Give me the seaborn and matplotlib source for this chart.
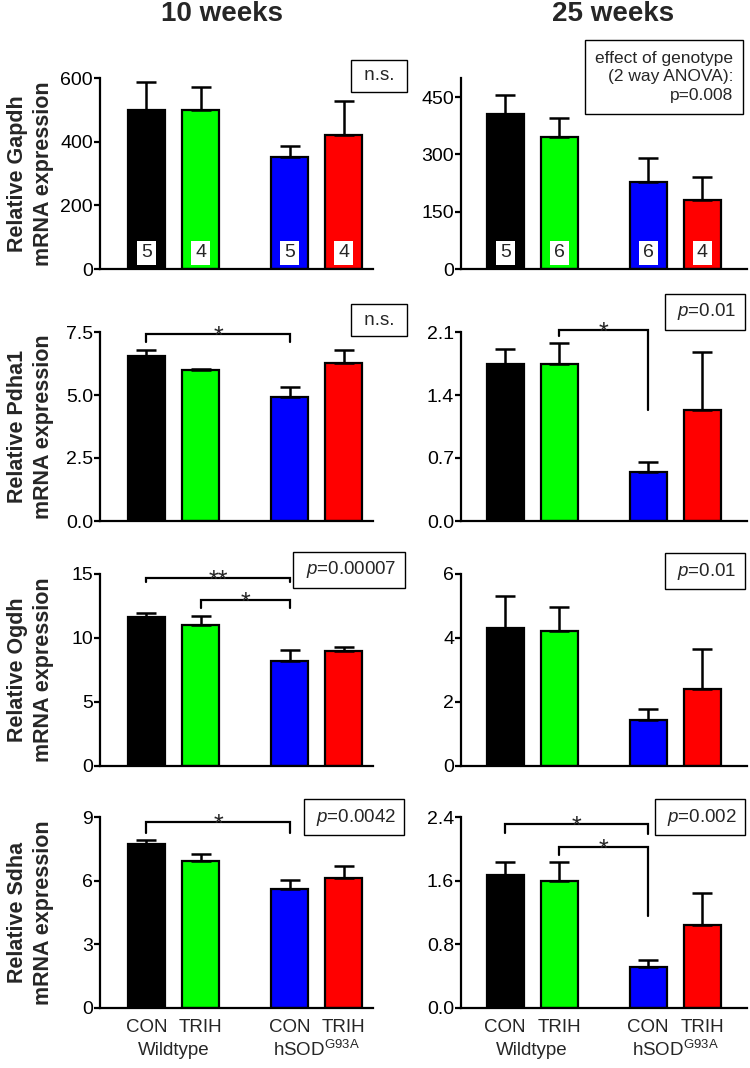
import numpy as np
import pandas as pd
import matplotlib
matplotlib.use("Agg")
import matplotlib.pyplot as plt
import matplotlib.transforms as mtransforms
import seaborn as sns

# groups (same order in every panel)
groups = ["WT CON", "WT TRIH", "SOD CON", "SOD TRIH"]
treatments = ["CON", "TRIH", "CON", "TRIH"]
genotypes = ["Wildtype", r"hSOD$^{\mathregular{G93A}}$"]
bar_colors = ["#000000", "#00ff00", "#0000ff", "#ff0000"]

# Gapdh
gapdh_10_mean = [500, 500, 353, 421]
gapdh_10_sem = [87, 73, 33, 107]
gapdh_10_n = [5, 4, 5, 4]
gapdh_25_mean = [407, 346, 229, 181]
gapdh_25_sem = [48, 48, 62, 61]
gapdh_25_n = [5, 6, 6, 4]

# Pdha1
pdha1_10_mean = [6.53, 5.99, 4.91, 6.26]
pdha1_10_sem = [0.26, 0.04, 0.40, 0.53]
pdha1_25_mean = [1.74, 1.75, 0.54, 1.23]
pdha1_25_sem = [0.17, 0.23, 0.12, 0.65]

# Ogdh
ogdh_10_mean = [11.62, 11.02, 8.23, 8.98]
ogdh_10_sem = [0.31, 0.70, 0.83, 0.29]
ogdh_25_mean = [4.30, 4.22, 1.44, 2.42]
ogdh_25_sem = [1.00, 0.75, 0.33, 1.25]

# Sdha
sdha_10_mean = [7.71, 6.93, 5.59, 6.14]
sdha_10_sem = [0.20, 0.31, 0.44, 0.55]
sdha_25_mean = [1.67, 1.60, 0.51, 1.04]
sdha_25_sem = [0.17, 0.24, 0.09, 0.40]

# y ticks per panel
gapdh_10_ticks = [0, 200, 400, 600]
gapdh_25_ticks = [0, 150, 300, 450]
pdha1_10_ticks = ["0.0", "2.5", "5.0", "7.5"]
pdha1_25_ticks = ["0.0", "0.7", "1.4", "2.1"]
ogdh_10_ticks = [0, 5, 10, 15]
ogdh_25_ticks = [0, 2, 4, 6]
sdha_10_ticks = [0, 3, 6, 9]
sdha_25_ticks = ["0.0", "0.8", "1.6", "2.4"]

# layout (pixels of a 750 x 1068 canvas)
W, H = 750, 1068
bar_pos = np.array([0.0, 1.0, 2.65, 3.65])
col_x = [(100, 373), (461, 747)]
col_xlim = [(-0.86, 4.19), (-0.82, 4.48)]
row_y = [(78, 269), (332, 521), (574, 766), (817, 1008)]


def px_rect(x0, x1, y0, y1):
    return [x0 / W, 1 - y1 / H, (x1 - x0) / W, (y1 - y0) / H]


def fig_text(fig, x, y, s, **kw):
    return fig.text(x / W, 1 - y / H, s, **kw)


sns.set_theme(style="ticks")
plt.rcParams["font.family"] = ["Liberation Sans", "DejaVu Sans"]
plt.rcParams["mathtext.fontset"] = "custom"
plt.rcParams["mathtext.rm"] = "Liberation Sans"
plt.rcParams["mathtext.it"] = "Liberation Sans:italic"
plt.rcParams["axes.linewidth"] = 1.6
plt.rcParams["axes.edgecolor"] = "black"

fig = plt.figure(figsize=(W / 100, H / 100), dpi=100)

panels = [
    # row, col, gene, mean, sem, n, ymax, ticks
    (0, 0, "Gapdh", gapdh_10_mean, gapdh_10_sem, gapdh_10_n, 600, gapdh_10_ticks),
    (0, 1, "Gapdh", gapdh_25_mean, gapdh_25_sem, gapdh_25_n, 500, gapdh_25_ticks),
    (1, 0, "Pdha1", pdha1_10_mean, pdha1_10_sem, None, 7.5, pdha1_10_ticks),
    (1, 1, "Pdha1", pdha1_25_mean, pdha1_25_sem, None, 2.1, pdha1_25_ticks),
    (2, 0, "Ogdh", ogdh_10_mean, ogdh_10_sem, None, 15, ogdh_10_ticks),
    (2, 1, "Ogdh", ogdh_25_mean, ogdh_25_sem, None, 6, ogdh_25_ticks),
    (3, 0, "Sdha", sdha_10_mean, sdha_10_sem, None, 9, sdha_10_ticks),
    (3, 1, "Sdha", sdha_25_mean, sdha_25_sem, None, 2.4, sdha_25_ticks),
]

# significance brackets: (row, col, left bar, right bar, top, left end, right end, stars)
brackets = [
    (1, 0, 0, 2, 7.42, 7.10, 7.10, "*"),
    (1, 1, 1, 2, 2.12, 2.06, 1.23, "*"),
    (2, 0, 0, 2, 14.71, 14.37, 14.37, "**"),
    (2, 0, 1, 2, 12.97, 12.34, 12.34, "*"),
    (3, 0, 0, 2, 8.78, 8.26, 8.26, "*"),
    (3, 1, 0, 2, 2.31, 2.20, 2.19, "*"),
    (3, 1, 1, 2, 2.02, 1.925, 1.15, "*"),
]

axes = {}
for row, col, gene, means, sems, ns, ymax, ticks in panels:
    ax = fig.add_axes(px_rect(*col_x[col], *row_y[row]))
    axes[(row, col)] = ax
    df = pd.DataFrame({"pos": bar_pos, "group": groups, "mean": means})
    sns.barplot(data=df, x="pos", y="mean", hue="group", hue_order=groups,
                palette=dict(zip(groups, bar_colors)), native_scale=True,
                dodge=False, width=0.68, errorbar=None, saturation=1,
                edgecolor="black", linewidth=1.6, legend=False, ax=ax)
    ax.errorbar(bar_pos, means, yerr=[np.zeros(len(sems)), sems], fmt="none",
                ecolor="black", elinewidth=1.8, capsize=7, capthick=1.8)

    ax.set_xlim(*col_xlim[col])
    ax.set_ylim(0, ymax)
    tick_vals = [float(t) for t in ticks]
    ax.set_yticks(tick_vals, [str(t) for t in ticks])
    ax.tick_params(axis="y", length=4, width=1.6, labelsize=14, pad=1,
                   colors="black")
    sns.despine(ax=ax)
    ax.set_xlabel("")
    ax.set_ylabel("")

    if row == 3:
        ax.set_xticks(bar_pos, treatments)
        ax.tick_params(axis="x", length=0, labelsize=13.5, pad=8)
        trans = mtransforms.blended_transform_factory(ax.transData, ax.transAxes)
        ax.text(bar_pos[:2].mean(), -0.22, genotypes[0], transform=trans,
                ha="center", va="center", fontsize=13.5)
        ax.text(bar_pos[2:].mean(), -0.22, genotypes[1], transform=trans,
                ha="center", va="center", fontsize=13.5)
    else:
        ax.set_xticks([])

    if col == 0:
        ax.set_ylabel(f"Relative {gene}\nmRNA expression", fontsize=15.5,
                      fontweight="bold", linespacing=1.35)
        ax.yaxis.set_label_coords(-0.168, 0.5)

    if ns is not None:
        trans = mtransforms.blended_transform_factory(ax.transData, ax.transAxes)
        for x, n in zip(bar_pos, ns):
            ax.text(x, 0.084, str(n), transform=trans, ha="center", va="center",
                    fontsize=14, bbox=dict(boxstyle="square,pad=0.2", fc="white",
                                           ec="none"))

for row, col, i, j, top, yl, yr, stars in brackets:
    ax = axes[(row, col)]
    x1, x2 = bar_pos[i], bar_pos[j]
    ax.plot([x1, x1, x2, x2], [yl, top, top, yr], color="black", lw=1.6,
            clip_on=False, solid_joinstyle="miter")
    ax.annotate(stars, xy=((x1 + x2) / 2, top), xytext=(0, -7),
                textcoords="offset points", ha="center", va="baseline",
                fontsize=18, annotation_clip=False)

# p-value boxes
box = dict(boxstyle="square,pad=0.4", fc="white", ec="black", lw=1.0)
p_boxes = [
    (379, 76, " n.s. "),
    (379, 320, " n.s. "),
    (705, 312, r" $\it{p}$=0.01 "),
    (349, 570, r" $\it{p}$=0.00007 "),
    (705, 571, r" $\it{p}$=0.01 "),
    (354, 817, r" $\it{p}$=0.0042 "),
    (700, 817, r" $\it{p}$=0.002 "),
]
for x, y, s in p_boxes:
    fig_text(fig, x, y, s, ha="center", va="center", fontsize=13.5, bbox=box)

fig_text(fig, 733, 77, "effect of genotype\n(2 way ANOVA):\np=0.008",
         ha="right", va="center", multialignment="right", fontsize=12.5,
         linespacing=1.3, bbox=dict(boxstyle="square,pad=0.6", fc="white",
                                    ec="black", lw=1.0))

# column titles
fig_text(fig, 222, 14, "10 weeks", ha="center", va="center", fontsize=20,
         fontweight="bold")
fig_text(fig, 613, 14, "25 weeks", ha="center", va="center", fontsize=20,
         fontweight="bold")

fig.savefig("out.png", dpi=100)
